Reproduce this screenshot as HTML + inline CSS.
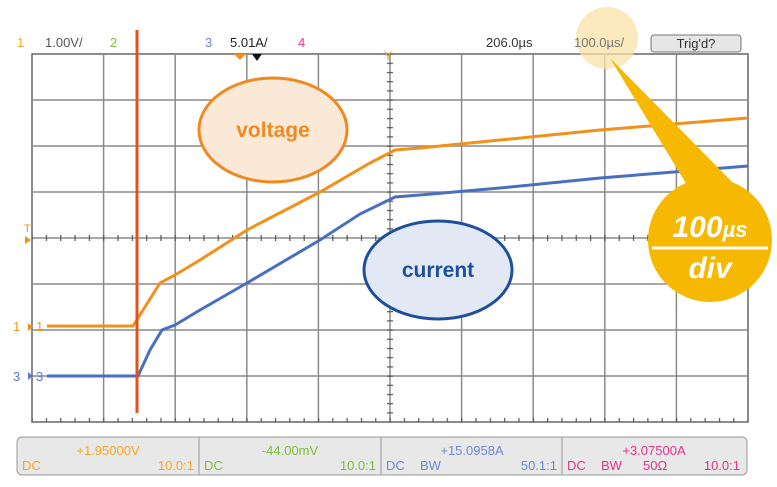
<!DOCTYPE html>
<html><head><meta charset="utf-8"><style>
body{margin:0;width:777px;height:487px;background:#fff;overflow:hidden;font-family:"Liberation Sans",sans-serif}
svg{position:absolute;left:0;top:0}
</style></head><body>
<svg width="777" height="487" viewBox="0 0 777 487">
<defs>
<pattern id="ht" x="31.5" y="0" width="14.32" height="10" patternUnits="userSpaceOnUse"><rect x="0" y="0" width="1.2" height="10" fill="#555"/></pattern>
<pattern id="vt" x="0" y="53.5" width="10" height="9.2" patternUnits="userSpaceOnUse"><rect x="0" y="0" width="10" height="1.2" fill="#555"/></pattern>
</defs>
<g stroke="#8a8a8a" stroke-width="1.5" fill="none">
<rect x="32" y="54" width="716" height="368" stroke="#666"/>
<line x1="103.6" y1="54" x2="103.6" y2="422"/><line x1="175.2" y1="54" x2="175.2" y2="422"/>
<line x1="246.8" y1="54" x2="246.8" y2="422"/><line x1="318.4" y1="54" x2="318.4" y2="422"/>
<line x1="390" y1="54" x2="390" y2="422"/><line x1="461.6" y1="54" x2="461.6" y2="422"/>
<line x1="533.2" y1="54" x2="533.2" y2="422"/><line x1="604.8" y1="54" x2="604.8" y2="422"/>
<line x1="676.4" y1="54" x2="676.4" y2="422"/>
<line x1="32" y1="100" x2="748" y2="100"/><line x1="32" y1="146" x2="748" y2="146"/>
<line x1="32" y1="192" x2="748" y2="192"/><line x1="32" y1="238" x2="748" y2="238"/>
<line x1="32" y1="284" x2="748" y2="284"/><line x1="32" y1="330" x2="748" y2="330"/>
<line x1="32" y1="376" x2="748" y2="376"/>
</g>
<rect x="32" y="235" width="716" height="6" fill="url(#ht)"/>
<rect x="32" y="418" width="716" height="4" fill="url(#ht)"/>
<rect x="387" y="54" width="6" height="368" fill="url(#vt)"/>
<polyline fill="none" stroke="#f39019" stroke-width="3" points="47,326 133,326 160,283 175,275 200,260 247,230 320,192 370,163 395,150 420,148 500,140 600,130 748,118"/>
<polyline fill="none" stroke="#4a6fc0" stroke-width="3" points="47,376 138,376 150,350 162,330 175,325 200,310 247,283 320,240 360,214 395,197 420,195 500,188 600,178 748,166"/>
<line x1="137" y1="30" x2="137" y2="413" stroke="#e8501a" stroke-width="3"/>
<ellipse cx="273" cy="130" rx="74" ry="52" fill="#fbe9d8" stroke="#ef8a22" stroke-width="3"/>
<text x="273" y="137" font-size="21" font-weight="bold" fill="#ef8a22" text-anchor="middle">voltage</text>
<ellipse cx="438" cy="270" rx="74" ry="49" fill="#e2e9f5" stroke="#1f4e9c" stroke-width="3"/>
<text x="438" y="277" font-size="21" font-weight="bold" fill="#1f4e9c" text-anchor="middle">current</text>
<circle cx="607" cy="38" r="31" fill="#f9e2a8" opacity="0.75"/>
<polygon points="610,58 690,190 740,190" fill="#f6b800"/>
<circle cx="710" cy="240" r="62" fill="#f6b800"/>
<text x="710" y="237" font-size="30" font-weight="bold" font-style="italic" fill="#fff" text-anchor="middle">100<tspan font-size="22">µs</tspan></text>
<line x1="652" y1="248" x2="768" y2="248" stroke="#fff" stroke-width="3"/>
<text x="710" y="278" font-size="30" font-weight="bold" font-style="italic" fill="#fff" text-anchor="middle">div</text>
<g font-size="13">
<text x="17" y="47" fill="#f5a623">1</text><text x="45" y="47" fill="#555">1.00V/</text>
<text x="110" y="47" fill="#7cbf3c">2</text>
<text x="205" y="47" fill="#6d89d0">3</text><text x="230" y="47" fill="#222">5.01A/</text>
<text x="298" y="47" fill="#e0348c">4</text>
<text x="486" y="47" fill="#333">206.0µs</text>
<text x="574" y="47" fill="#777">100.0µs/</text>
</g>
<rect x="651" y="35" width="90" height="17" rx="3" fill="#e6e6e6" stroke="#777"/>
<text x="696" y="48" font-size="13" fill="#333" text-anchor="middle">Trig'd?</text>
<polygon points="234,54 246,54 240,60" fill="#f39019"/><polygon points="252,54 262,54 257,61" fill="#111"/>
<text x="384" y="60" font-size="12" fill="#f39019">Y</text>
<text x="24" y="232" font-size="11" fill="#f39019">T</text><polygon points="25,236 31,240 25,244" fill="#f39019"/>
<text x="13" y="331" font-size="13" fill="#f39019">1</text><text x="36" y="331" font-size="13" fill="#f39019">1</text>
<polygon points="28,323 33,327 28,331" fill="#f39019"/>
<text x="13" y="381" font-size="13" fill="#5a7dc8">3</text><text x="36" y="381" font-size="13" fill="#5a7dc8">3</text>
<polygon points="28,372 33,376 28,380" fill="#5a7dc8"/>
<rect x="17" y="437" width="730" height="38" rx="5" fill="#e8e8e8" stroke="#999"/>
<g stroke="#999"><line x1="199" y1="437" x2="199" y2="475"/><line x1="381" y1="437" x2="381" y2="475"/><line x1="562" y1="437" x2="562" y2="475"/></g>
<g font-size="13">
<text x="108" y="455" fill="#f5a623" text-anchor="middle">+1.95000V</text>
<text x="22" y="470" fill="#f5a623">DC</text><text x="194" y="470" fill="#f5a623" text-anchor="end">10.0:1</text>
<text x="290" y="455" fill="#7cbf3c" text-anchor="middle">-44.00mV</text>
<text x="204" y="470" fill="#7cbf3c">DC</text><text x="376" y="470" fill="#7cbf3c" text-anchor="end">10.0:1</text>
<text x="472" y="455" fill="#6d89d0" text-anchor="middle">+15.0958A</text>
<text x="386" y="470" fill="#6d89d0">DC</text><text x="420" y="470" fill="#6d89d0">BW</text><text x="557" y="470" fill="#6d89d0" text-anchor="end">50.1:1</text>
<text x="654" y="455" fill="#e0348c" text-anchor="middle">+3.07500A</text>
<text x="567" y="470" fill="#e0348c">DC</text><text x="601" y="470" fill="#e0348c">BW</text><text x="643" y="470" fill="#e0348c">50Ω</text><text x="740" y="470" fill="#e0348c" text-anchor="end">10.0:1</text>
</g>
</svg>
</body></html>
